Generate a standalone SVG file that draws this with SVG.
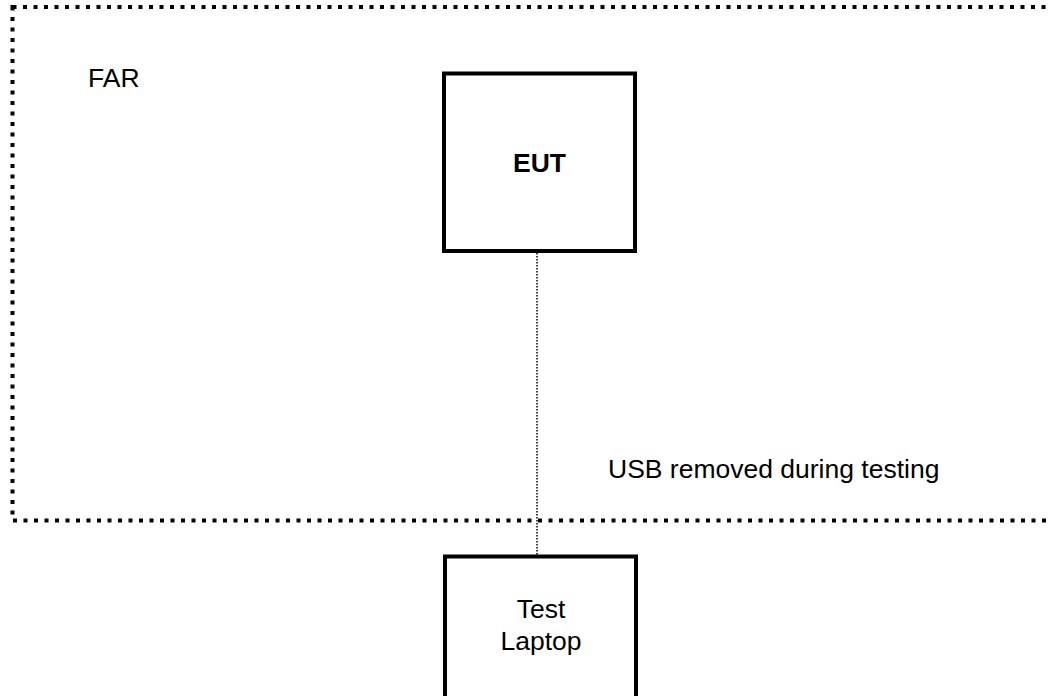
<svg xmlns="http://www.w3.org/2000/svg" width="1050" height="696" viewBox="0 0 1050 696">
<style>
.t{font-family:"Liberation Sans",Arial,sans-serif;font-size:26.5px;fill:#000}
.box{fill:#fff;stroke:#000;stroke-width:4}
</style>
<rect width="1050" height="696" fill="#fff"/>
<g id="far">
<rect x="12.5" y="7" width="1100" height="513.5" fill="none" stroke="#000" stroke-width="4" stroke-dasharray="4 6.5"/>
<text class="t" x="88" y="87">FAR</text>
</g>
<g id="connectors">
<line x1="537" y1="253" x2="537" y2="555" stroke="#000" stroke-width="1.5" stroke-dasharray="1.5 1.5"/>
</g>
<g id="eut">
<rect class="box" x="444" y="73.5" width="191" height="177.5"/>
<text class="t" x="539.5" y="172" text-anchor="middle" font-weight="bold">EUT</text>
</g>
<g id="laptop">
<rect class="box" x="445" y="556.5" width="191" height="180"/>
<text class="t" x="541" y="618" text-anchor="middle">Test</text>
<text class="t" x="541" y="650" text-anchor="middle">Laptop</text>
</g>
<g id="note">
<text class="t" x="608" y="478">USB removed during testing</text>
</g>
</svg>
